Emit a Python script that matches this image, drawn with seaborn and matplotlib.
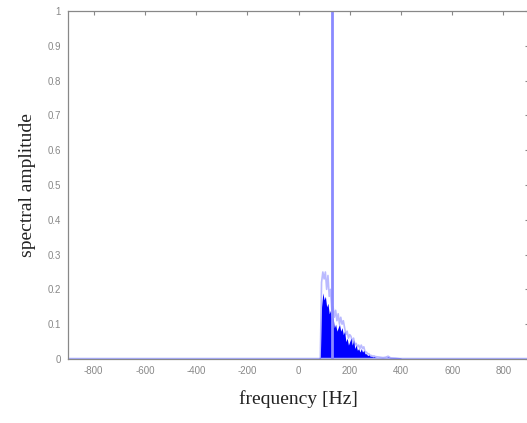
import numpy as np
import pandas as pd
import matplotlib
matplotlib.use("Agg")
import matplotlib.pyplot as plt
import seaborn as sns

# spectrum (Hz, amplitude)
freq = [85, 90, 95, 100, 105, 110, 115, 120, 125, 130, 135, 140, 145, 150,
        155, 160, 165, 170, 175, 180, 185, 190, 195, 200, 205, 210, 215, 220,
        225, 230, 235, 240, 245, 250, 255, 260, 265, 270, 275, 280, 285, 290,
        295, 300, 310, 320, 330, 340, 350, 360, 380, 400]
amp_dark = [0.0, 0.15, 0.19, 0.17, 0.18, 0.15, 0.16, 0.13, 0.14, 0.11, 0.12,
            0.09, 0.10, 0.08, 0.09, 0.10, 0.08, 0.09, 0.07, 0.08, 0.05, 0.06,
            0.04, 0.05, 0.06, 0.04, 0.055, 0.03, 0.04, 0.025, 0.03, 0.02,
            0.03, 0.02, 0.025, 0.015, 0.015, 0.01, 0.012, 0.008, 0.008,
            0.006, 0.007, 0.005, 0.004, 0.003, 0.003, 0.004, 0.006, 0.002,
            0.001, 0.0]
amp_light = [0.0, 0.22, 0.25, 0.23, 0.25, 0.20, 0.24, 0.18, 0.20, 0.14, 0.15,
             0.12, 0.14, 0.11, 0.13, 0.10, 0.12, 0.10, 0.11, 0.09, 0.07,
             0.08, 0.06, 0.07, 0.065, 0.05, 0.06, 0.04, 0.045, 0.035, 0.04,
             0.03, 0.04, 0.03, 0.035, 0.02, 0.02, 0.015, 0.015, 0.01, 0.01,
             0.008, 0.009, 0.007, 0.006, 0.005, 0.004, 0.005, 0.008, 0.003,
             0.002, 0.0]
spike_freq = 130
spike_amp = 1.0
span = [-900, 900]

xticks = [-800, -600, -400, -200, 0, 200, 400, 600, 800]
yticks = [0, 0.1, 0.2, 0.3, 0.4, 0.5, 0.6, 0.7, 0.8, 0.9, 1]
ytick_labels = ["0", "0.1", "0.2", "0.3", "0.4", "0.5", "0.6", "0.7", "0.8",
                "0.9", "1"]

sns.set_style("white")
plt.rcParams["font.family"] = ["Liberation Sans", "DejaVu Sans"]
plt.rcParams["axes.unicode_minus"] = False

spec = pd.DataFrame({"f": freq, "dark": amp_dark, "light": amp_light})

fig = plt.figure(figsize=(5.27, 4.23), dpi=100)
ax = fig.add_axes([68 / 527, (423 - 359) / 423, (529 - 68) / 527, 348 / 423])

# baseline across the whole band
sns.lineplot(x=span, y=[0, 0], color="#a9adff", lw=2.5, ax=ax)
# dense part of the spectrum
ax.fill_between(spec["f"], 0, spec["dark"], color="#0000ff", lw=0)
sns.lineplot(data=spec, x="f", y="light", color="#3a3aff", alpha=0.35,
             lw=1.2, ax=ax)
# carrier line
ax.vlines(spike_freq, 0, spike_amp, color="#8a8aff", lw=2)

ax.set_xlim(span)
ax.set_ylim(0, 1)
ax.set_xticks(xticks)
ax.set_yticks(yticks)
ax.set_yticklabels(ytick_labels)
ax.tick_params(direction="in", length=3, width=0.8, colors="#888888",
               labelsize=7, top=True, right=True, pad=5)
for s in ax.spines.values():
    s.set_color("#888888")
    s.set_linewidth(0.9)

ax.set_xlabel("frequency [Hz]", family=["Liberation Serif", "DejaVu Serif"],
              fontsize=14, color="#222222", labelpad=10)
ax.set_ylabel("spectral amplitude", family=["Liberation Serif", "DejaVu Serif"],
              fontsize=14, color="#222222", labelpad=8)

fig.savefig("out.png", dpi=100)
